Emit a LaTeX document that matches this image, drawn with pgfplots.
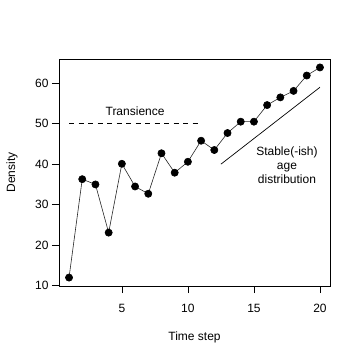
\documentclass[border=0pt]{standalone}
\usepackage{pgfplots}
\pgfplotsset{compat=1.18}
\usepackage{fontspec}
\setmainfont{Liberation Sans}
\begin{document}
\begin{tikzpicture}
\path[use as bounding box] (0,0) rectangle (360bp,360bp);
\begin{axis}[
  at={(59bp,74bp)}, anchor=south west,
  scale only axis, width=271bp, height=227bp,
  xmin=0.24, xmax=20.76, ymin=9.92, ymax=65.98,
  xtick={5,10,15,20}, ytick={10,20,30,40,50,60},
  tick align=outside, major tick length=7bp,
  tick style={black, line width=0.6bp},
  axis line style={black, line width=0.6bp},
  xtick pos=bottom, ytick pos=left,
  /pgf/number format/assume math mode=true,
  ticklabel style={font=\fontsize{12bp}{14bp}\selectfont},
  xticklabel style={yshift=-8bp},
  label style={font=\fontsize{12bp}{14bp}\selectfont},
  xlabel={Time step}, ylabel={Density},
  xlabel style={at={(axis description cs:0.5,-0.2247)}, anchor=center},
  ylabel style={at={(axis description cs:-0.1734,0.5)}, anchor=center},
  clip=false,
]
\addplot[black!85, line width=0.6bp, mark=*, mark size=3.6bp,
  mark options={solid, fill=black, draw=black}] coordinates {
(1,12.0) (2,36.3) (3,35.0) (4,23.1) (5,40.1) (6,34.5) (7,32.7) (8,42.7)
(9,37.9) (10,40.6) (11,45.8) (12,43.5) (13,47.7) (14,50.5) (15,50.5)
(16,54.6) (17,56.5) (18,58.1) (19,61.9) (20,63.9)};
\addplot[black, line width=0.7bp, dash pattern=on 5bp off 4.5bp] coordinates {(1,50) (11,50)};
\addplot[black, line width=0.7bp] coordinates {(12.5,40) (20,59)};
\node[font=\fontsize{12bp}{14bp}\selectfont] at (axis cs:6,53) {Transience};
\node[font=\fontsize{12bp}{14bp}\selectfont, align=center] at (axis cs:17.5,39.8) {Stable(-ish)\\age\\distribution};
\end{axis}
\end{tikzpicture}
\end{document}
